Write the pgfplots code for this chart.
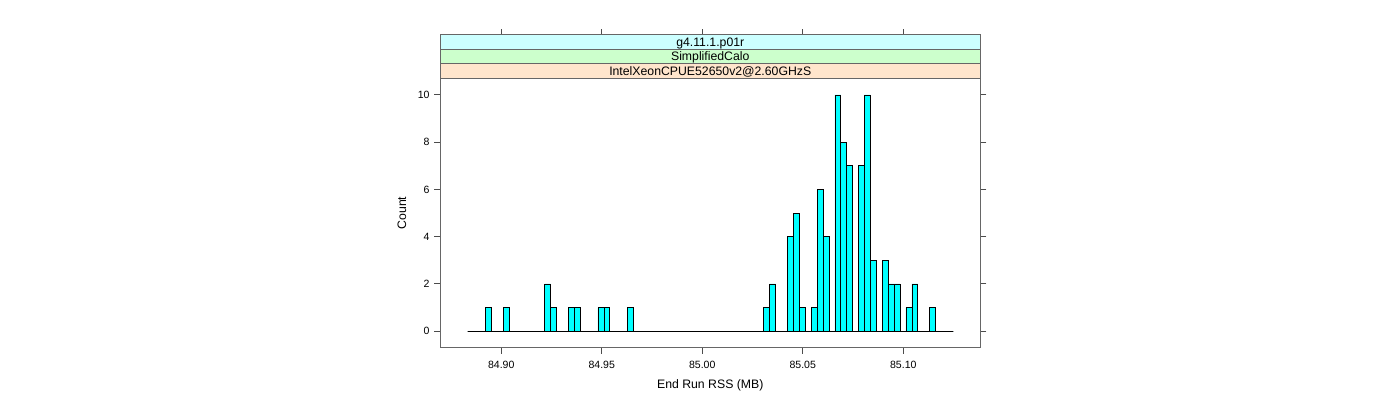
\documentclass[border=0pt]{standalone}
\usepackage{pgfplots}
\pgfplotsset{compat=1.18}
\usetikzlibrary{calc}
\usepackage{fontspec}
\setmainfont{Liberation Sans}
\definecolor{barcyan}{HTML}{00FFFF}
\definecolor{stripA}{HTML}{FFE5CC}
\definecolor{stripB}{HTML}{CCFFCC}
\definecolor{stripC}{HTML}{CCFFFF}
\begin{document}
\begin{tikzpicture}[font=\fontsize{7.9pt}{9.5pt}\selectfont]
\useasboundingbox (0,0) rectangle (1050pt,300pt);
\begin{axis}[name=ax, at={(330.2pt,39.2pt)}, anchor=south west,
  scale only axis, width=405pt, height=202.05pt,
  xmin=84.86965, xmax=85.1383, ymin=-0.7, ymax=10.7,
  xtick={84.9,84.95,85,85.05,85.1}, xticklabels={84.90,84.95,85.00,85.05,85.10},
  ytick={0,2,4,6,8,10}, yticklabels={0,2,4,6,8,10},
  xtick pos=left, ytick pos=both, tick align=outside, major tick length=4.5pt,
  axis line style={black!60, line width=0.75pt},
  every tick/.style={black!70, line width=0.75pt},
  xticklabel style={yshift=-2pt},
  xlabel={End Run RSS (MB)}, ylabel={Count},
  label style={font=\fontsize{9.2pt}{11pt}\selectfont},
  xlabel style={at={(axis description cs:0.5,-0.1386)}, anchor=center},
  ylabel style={at={(axis description cs:-0.0709,0.5)}, anchor=center},
  clip=false]
\addplot[ybar interval, fill=barcyan, draw=black, line width=0.5pt] coordinates {
(84.88330,0) (84.88625,0) (84.88919,0) (84.89214,1) (84.89508,0) (84.89803,0)
(84.90098,1) (84.90392,0) (84.90687,0) (84.90981,0) (84.91276,0) (84.91571,0)
(84.91865,0) (84.92160,2) (84.92454,1) (84.92749,0) (84.93044,0) (84.93338,1)
(84.93633,1) (84.93927,0) (84.94222,0) (84.94517,0) (84.94811,1) (84.95106,1)
(84.95400,0) (84.95695,0) (84.95990,0) (84.96284,1) (84.96579,0) (84.96873,0)
(84.97168,0) (84.97463,0) (84.97757,0) (84.98052,0) (84.98346,0) (84.98641,0)
(84.98936,0) (84.99230,0) (84.99525,0) (84.99819,0) (85.00114,0) (85.00409,0)
(85.00703,0) (85.00998,0) (85.01292,0) (85.01587,0) (85.01882,0) (85.02176,0)
(85.02471,0) (85.02765,0) (85.03060,1) (85.03355,2) (85.03649,0) (85.03944,0)
(85.04238,4) (85.04533,5) (85.04828,1) (85.05122,0) (85.05417,1) (85.05711,6)
(85.06006,4) (85.06301,0) (85.06595,10) (85.06890,8) (85.07184,7) (85.07479,0)
(85.07774,7) (85.08068,10) (85.08363,3) (85.08657,0) (85.08952,3) (85.09247,2)
(85.09541,2) (85.09836,0) (85.10130,1) (85.10425,2) (85.10720,0) (85.11014,0)
(85.11309,1) (85.11603,0) (85.11898,0) (85.12193,0) (85.12487,0)
};
\end{axis}
\foreach \r in {0.11297,0.29908,0.48520,0.67132,0.85743}{
  \draw[black!70, line width=0.75pt] ($(ax.north west)!\r!(ax.north east)+(0,32.7pt)$) -- ++(0,4.5pt);
}
\draw[fill=stripA, draw=black!60, line width=0.75pt] (ax.north west) rectangle ([yshift=10.9pt]ax.north east);
\draw[fill=stripB, draw=black!60, line width=0.75pt] ([yshift=10.9pt]ax.north west) rectangle ([yshift=21.8pt]ax.north east);
\draw[fill=stripC, draw=black!60, line width=0.75pt] ([yshift=21.8pt]ax.north west) rectangle ([yshift=32.7pt]ax.north east);
\begin{scope}[font=\fontsize{9.2pt}{11pt}\selectfont]
\node[inner sep=0pt, anchor=base] at ([yshift=2.2pt]ax.north) {IntelXeonCPUE52650v2@2.60GHzS};
\node[inner sep=0pt, anchor=base] at ([yshift=13.1pt]ax.north) {SimplifiedCalo};
\node[inner sep=0pt, anchor=base] at ([yshift=24.0pt]ax.north) {g4.11.1.p01r};
\end{scope}
\end{tikzpicture}
\end{document}
